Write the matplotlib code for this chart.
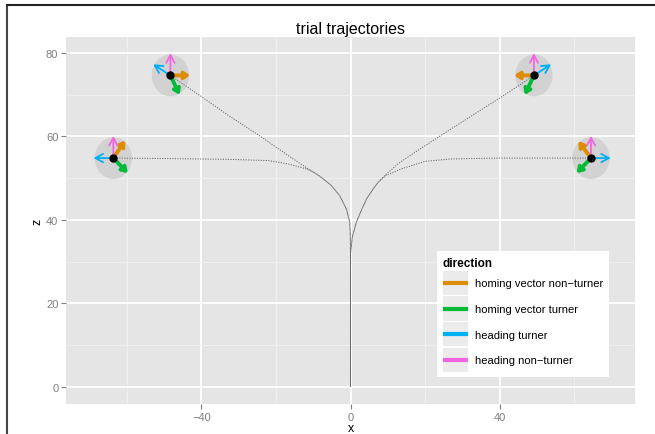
import matplotlib
matplotlib.use("Agg")
import matplotlib.pyplot as plt
import numpy as np
from matplotlib.patches import Circle, Rectangle
from matplotlib.lines import Line2D
from matplotlib.legend_handler import HandlerLine2D

plt.rcParams['font.family'] = ['Liberation Sans', 'DejaVu Sans']

# target positions (end of each trajectory)
point_x = [-48.3, -63.6, 49.2, 64.5]
point_z = [74.6, 54.8, 74.6, 54.8]

# arrow directions at each target, degrees
homing_nonturner_deg = [0, 53, 180, 130]
homing_turner_deg = [-62, -43, -118, -137]
heading_turner_deg = [150, 180, 30, 0]
heading_nonturner_deg = [90, 90, 90, 90]
arrow_len = 5.3
circle_r = 5.0

# trajectories
traj_tl_x = [0, 0, 0, -0.05, -0.2, -1.1, -2.9, -5.1, -7.3, -9.2, -11.3, -16.7, -23.8, -32.7, -39.8, -48.3]
traj_tl_z = [0, 20, 33, 36.5, 39.4, 42.6, 45.8, 48.2, 49.8, 51.0, 52.2, 55.4, 59.8, 65.0, 69.4, 74.6]
traj_l_x = [0, 0, 0, -0.05, -0.2, -1.1, -2.9, -5.1, -7.3, -8.6, -10.3, -12.2, -16.7, -22, -32.7, -50.5, -63.6]
traj_l_z = [0, 20, 33, 36.5, 39.4, 42.6, 45.8, 48.2, 49.8, 50.7, 51.6, 52.3, 53.4, 54.2, 54.5, 54.7, 54.8]
traj_tr_x = [0, 0, 0, 0.5, 1.6, 3.0, 4.3, 6.0, 7.4, 9.5, 13, 19, 27, 40.4, 49.2]
traj_tr_z = [0, 20, 32, 36, 39.5, 42.5, 45, 47.3, 49, 50.9, 53.6, 57.2, 61.8, 69.4, 74.6]
traj_r_x = [0, 0, 0, 0.5, 1.6, 3.0, 4.3, 6.0, 7.4, 9.5, 13.6, 19.9, 27, 40, 53.7, 64.5]
traj_r_z = [0, 20, 32, 36, 39.5, 42.5, 45, 47.3, 49, 50.6, 52.2, 54.0, 54.6, 54.8, 54.8, 54.8]

labels = ['homing vector non\u2212turner', 'homing vector turner', 'heading turner', 'heading non\u2212turner']
colors = ['#DE8C00', '#00BA38', '#00B0F6', '#F564E3']
widths = [2.8, 2.8, 1.3, 1.3]
heads = ['->,head_length=0.3,head_width=0.2', '->,head_length=0.3,head_width=0.2',
         '->,head_length=0.55,head_width=0.3', '->,head_length=0.55,head_width=0.3']
angle_sets = [homing_nonturner_deg, homing_turner_deg, heading_turner_deg, heading_nonturner_deg]

fig = plt.figure(figsize=(6.55, 4.35), dpi=100)
ax = fig.add_axes([66 / 655, 1 - 405 / 435, (635 - 66) / 655, (405 - 38) / 435])
ax.set_facecolor('#E5E5E5')
for s in ax.spines.values():
    s.set_visible(False)

ax.set_xlim(-76.3, 76.3)
ax.set_ylim(-4.1, 83.8)
ax.set_xticks([-40, 0, 40])
ax.set_yticks([0, 20, 40, 60, 80])
ax.set_xticks([-60, -20, 20, 60], minor=True)
ax.set_yticks([10, 30, 50, 70], minor=True)
ax.grid(True, which='major', color='white', lw=1.3)
ax.grid(True, which='minor', color='#F2F2F2', lw=0.6)
ax.set_axisbelow(True)
ax.tick_params(which='major', colors='#7F7F7F', labelsize=8, length=3.5, width=0.8, pad=2)
ax.tick_params(which='minor', length=0)
ax.set_xlabel('x', fontsize=9, labelpad=0)
ax.set_ylabel('z', fontsize=9, labelpad=2)
ax.set_title('trial trajectories', fontsize=11.5, pad=3)

for px, pz in zip(point_x, point_z):
    ax.add_patch(Circle((px, pz), circle_r, facecolor='#CFCFCF', edgecolor='none', alpha=0.85, zorder=2))

# offset dash phases so the shared stem reads as solid, as in the reference
trajs = [(traj_tl_x, traj_tl_z, 0), (traj_l_x, traj_l_z, 1.2), (traj_tr_x, traj_tr_z, 0.6), (traj_r_x, traj_r_z, 1.8)]
for tx, tz, off in trajs:
    ax.plot(tx, tz, color='#666666', lw=0.7, linestyle=(off, (1.2, 1.4)), zorder=3)

for angles, c, w, hs in zip(angle_sets, colors, widths, heads):
    for px, pz, a in zip(point_x, point_z, angles):
        r = np.deg2rad(a)
        ex = px + arrow_len * np.cos(r)
        ez = pz + arrow_len * np.sin(r)
        ax.annotate('', xy=(ex, ez), xytext=(px, pz),
                    arrowprops=dict(arrowstyle=hs, color=c, lw=w, shrinkA=0, shrinkB=0),
                    zorder=4)

ax.plot(point_x, point_z, 'o', color='black', ms=5, zorder=5)


class KeyHandler(HandlerLine2D):
    def create_artists(self, legend, orig_handle, xdescent, ydescent, width, height, fontsize, trans):
        bg = Rectangle((-xdescent, -ydescent - 0.03 * height), width, height * 1.06,
                       facecolor='#EBEBEB', edgecolor='none', transform=trans)
        ln = Line2D([-xdescent + 0.1 * width, -xdescent + 0.9 * width],
                    [-ydescent + height / 2] * 2, color=orig_handle.get_color(),
                    lw=3, transform=trans)
        return [bg, ln]


handles = [Line2D([], [], color=c) for c in colors]
leg = ax.legend(handles, labels, title='direction', loc='upper left',
                bbox_to_anchor=(437 / 655, 1 - 252 / 435), bbox_transform=fig.transFigure,
                fontsize=8, title_fontsize=8.5, frameon=True, fancybox=False, framealpha=1,
                handlelength=2.3, handleheight=2.8, labelspacing=0.25, handletextpad=0.6,
                borderpad=0.5, borderaxespad=0, alignment='left',
                handler_map={Line2D: KeyHandler()})
leg.get_frame().set_facecolor('white')
leg.get_frame().set_edgecolor('none')
leg.get_title().set_fontweight('bold')

# screenshot frame edges
fig.add_artist(Line2D([7 / 655, 7 / 655], [0, 1 - 6 / 435], color='#444444', lw=1.5, transform=fig.transFigure))
fig.add_artist(Line2D([7 / 655, 1], [1 - 6 / 435, 1 - 6 / 435], color='#222222', lw=1.5, transform=fig.transFigure))

fig.savefig('out.png', dpi=100)
plt.close(fig)
